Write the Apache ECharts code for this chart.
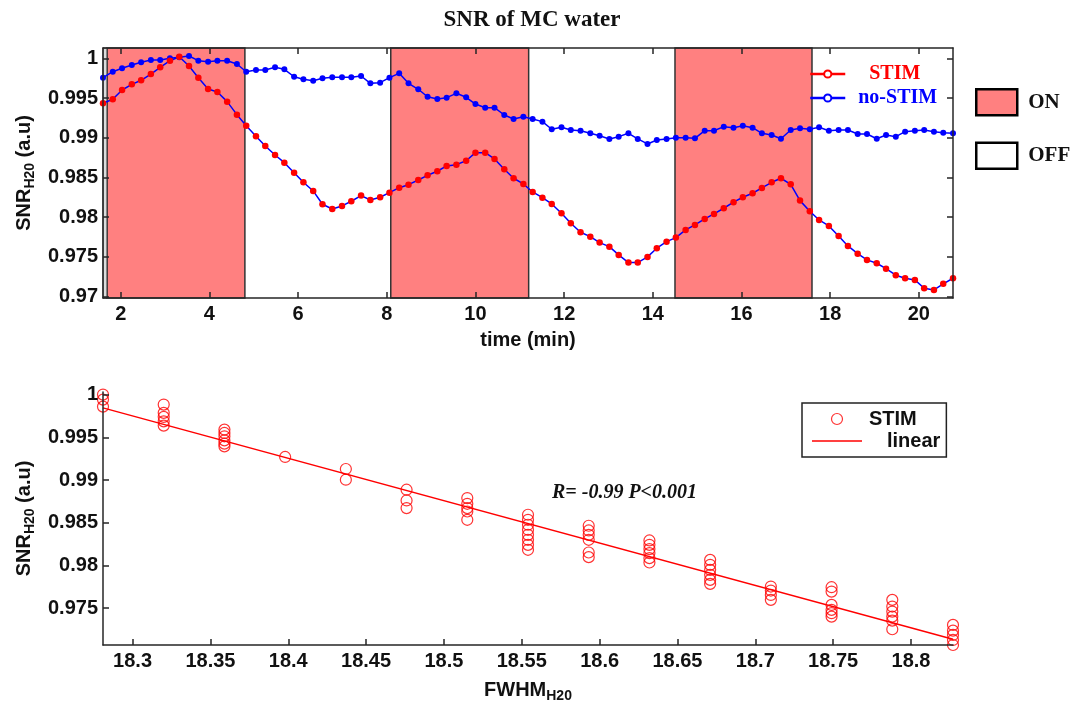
<!DOCTYPE html>
<html>
<head>
<meta charset="utf-8">
<script src="https://cdn.jsdelivr.net/npm/echarts@6/dist/echarts.min.js"></script>
<style>
html,body{margin:0;padding:0;background:#fff;}
#chart{width:1078px;height:704px;}
</style>
</head>
<body>
<div id="chart"></div>
<script>
// ---------- DATA ----------
const timeMin = [1.60,1.82,2.03,2.25,2.46,2.68,2.89,3.11,3.32,3.54,3.75,3.97,4.18,4.40,4.62,4.83,5.05,5.26,5.48,5.69,
  5.91,6.12,6.34,6.55,6.77,6.99,7.20,7.42,7.63,7.85,8.06,8.28,8.49,8.71,8.92,9.14,9.35,9.57,9.79,10.00,
  10.22,10.43,10.65,10.86,11.08,11.29,11.51,11.72,11.94,12.15,12.37,12.59,12.80,13.02,13.23,13.45,13.66,13.88,14.09,14.31,
  14.52,14.74,14.95,15.17,15.38,15.60,15.82,16.03,16.25,16.46,16.68,16.89,17.11,17.32,17.54,17.75,17.97,18.19,18.40,18.62,
  18.83,19.05,19.26,19.48,19.69,19.91,20.12,20.34,20.55,20.77];
const stimSNR = [0.99433,0.99484,0.99601,0.99672,0.99723,0.99802,0.99887,0.99970,1.00020,0.99903,
  0.99756,0.99613,0.99576,0.99454,0.99290,0.99151,0.99018,0.98895,0.98782,0.98685,
  0.98559,0.98438,0.98329,0.98161,0.98102,0.98140,0.98199,0.98270,0.98215,0.98249,
  0.98307,0.98370,0.98408,0.98467,0.98526,0.98577,0.98644,0.98660,0.98710,0.98811,
  0.98811,0.98732,0.98602,0.98489,0.98417,0.98316,0.98244,0.98165,0.98048,0.97922,
  0.97809,0.97753,0.97678,0.97627,0.97523,0.97426,0.97426,0.97498,0.97607,0.97690,
  0.97741,0.97838,0.97901,0.97976,0.98039,0.98111,0.98187,0.98249,0.98300,0.98367,
  0.98438,0.98489,0.98413,0.98207,0.98073,0.97963,0.97888,0.97762,0.97636,0.97539,
  0.97460,0.97418,0.97350,0.97267,0.97229,0.97208,0.97103,0.97082,0.97158,0.97229];
const noStimSNR = [0.99756,0.99831,0.99874,0.99916,0.99950,0.99979,0.99979,1.00000,1.00013,1.00029,
  0.99970,0.99957,0.99970,0.99970,0.99928,0.99831,0.99853,0.99853,0.99887,0.99861,
  0.99768,0.99736,0.99718,0.99748,0.99761,0.99761,0.99761,0.99777,0.99685,0.99693,
  0.99756,0.99811,0.99685,0.99610,0.99516,0.99487,0.99504,0.99559,0.99509,0.99424,
  0.99378,0.99378,0.99286,0.99236,0.99265,0.99236,0.99202,0.99106,0.99131,0.99097,
  0.99088,0.99055,0.99025,0.98984,0.99013,0.99055,0.98984,0.98921,0.98971,0.98984,
  0.99000,0.99000,0.98992,0.99088,0.99088,0.99139,0.99126,0.99151,0.99126,0.99055,
  0.99034,0.98987,0.99097,0.99118,0.99106,0.99131,0.99088,0.99097,0.99097,0.99047,
  0.99047,0.98987,0.99034,0.99013,0.99076,0.99088,0.99097,0.99076,0.99063,0.99055];
const onPeriods = [[1.69,4.80],[8.09,11.20],[14.50,17.59]];
const edgeStrip = [1.60,1.69];
const topXTicks = [2,4,6,8,10,12,14,16,18,20];
const topYTicks = [0.97,0.975,0.98,0.985,0.99,0.995,1];

const fwhmCols = [18.281,18.320,18.359,18.398,18.437,18.476,18.515,18.554,18.593,18.632,18.671,18.710,18.749,18.788,18.827];
const snrCols = [
  [1.0000,0.99941,0.99859],
  [0.99883,0.99786,0.99739,0.99687,0.99637],
  [0.99590,0.99551,0.99512,0.99464,0.99426,0.99394],
  [0.99270],
  [0.99129,0.99004],
  [0.98887,0.98761,0.98672],
  [0.98789,0.98722,0.98672,0.98632,0.98535],
  [0.98594,0.98535,0.98477,0.98418,0.98359,0.98301,0.98242,0.98184],
  [0.98465,0.98410,0.98359,0.98301,0.98152,0.98098],
  [0.98293,0.98242,0.98192,0.98145,0.98086,0.98035],
  [0.98066,0.98008,0.97949,0.97891,0.97832,0.97785],
  [0.97754,0.97707,0.97656,0.97598],
  [0.97746,0.97695,0.97539,0.97481,0.97442,0.97402],
  [0.97598,0.97520,0.97461,0.97402,0.97355,0.97254],
  [0.97305,0.97238,0.97188,0.97129,0.97070]
];
const fitX = [18.281,18.827];
const fitY = [0.99844,0.97137];
const botXTicks = [18.3,18.35,18.4,18.45,18.5,18.55,18.6,18.65,18.7,18.75,18.8];
const botYTicks = [0.975,0.98,0.985,0.99,0.995,1];

// ---------- BUILD ----------
const SANS = "'Liberation Sans', Arial, sans-serif";
const SERIF = "'Liberation Serif', 'Times New Roman', serif";
const AX = '#262626';
const SHADE = '#ff8080';

const stimData = timeMin.map((t,i)=>[t, stimSNR[i]]);
const noStimData = timeMin.map((t,i)=>[t, noStimSNR[i]]);
const scatterData = [];
fwhmCols.forEach((x,i)=>snrCols[i].forEach(v=>scatterData.push([x,v])));
const fitData = fitX.map((x,i)=>[x, fitY[i]]);

const fmt = v => String(+(+v).toFixed(3));
const labelStyle = {fontFamily:SANS, fontWeight:'bold', fontSize:20, color:'#111'};
const axisLine = {show:true, onZero:false, lineStyle:{color:AX, width:1.5}};

function nameRich(){
  return {
    rich:{
      m:{fontFamily:SANS, fontWeight:'bold', fontSize:20, color:'#111', lineHeight:26},
      s:{fontFamily:SANS, fontWeight:'bold', fontSize:14, color:'#111', lineHeight:8, verticalAlign:'bottom'}
    }
  };
}

const chart = echarts.init(document.getElementById('chart'), null, {renderer:'canvas'});
const option = {
  backgroundColor:'#fff',
  animation:false,
  title:{
    text:'SNR of MC water', left:527, top:4, textAlign:'center',
    textStyle:{fontFamily:SERIF, fontWeight:'bold', fontSize:23, color:'#111'}
  },
  grid:[
    {left:103, top:48, width:850, height:250},
    {left:103, top:392, width:850, height:253}
  ],
  xAxis:[
    {gridIndex:0, type:'value', min:1.6, max:20.77, position:'bottom', z:10,
     axisLine:axisLine, splitLine:{show:false},
     axisTick:{inside:true, length:6, customValues:topXTicks, lineStyle:{color:AX, width:1.5}},
     axisLabel:Object.assign({customValues:topXTicks, margin:6, formatter:fmt}, labelStyle),
     name:'time (min)', nameLocation:'middle', nameGap:32,
     nameTextStyle:{fontFamily:SANS, fontWeight:'bold', fontSize:20, color:'#111'}},
    {gridIndex:0, type:'value', min:1.6, max:20.77, position:'top', z:10,
     axisLine:axisLine, splitLine:{show:false},
     axisTick:{inside:true, length:6, customValues:topXTicks, lineStyle:{color:AX, width:1.5}},
     axisLabel:{show:false}},
    {gridIndex:1, type:'value', min:18.281, max:18.827, position:'bottom', z:10,
     axisLine:axisLine, splitLine:{show:false},
     axisTick:{inside:true, length:6, customValues:botXTicks, lineStyle:{color:AX, width:1.5}},
     axisLabel:Object.assign({customValues:botXTicks, margin:6, formatter:fmt}, labelStyle),
     name:'{m|FWHM}{s|H20}', nameLocation:'middle', nameGap:32,
     nameTextStyle:nameRich()}
  ],
  yAxis:[
    {gridIndex:0, type:'value', min:0.9698, max:1.0013, position:'left', z:10,
     axisLine:axisLine, splitLine:{show:false},
     axisTick:{inside:true, length:6, customValues:topYTicks, lineStyle:{color:AX, width:1.5}},
     axisLabel:Object.assign({customValues:topYTicks, margin:5, formatter:fmt}, labelStyle),
     name:'{m|SNR}{s|H20}{m| (a.u)}', nameLocation:'middle', nameGap:62, nameRotate:90,
     nameTextStyle:nameRich()},
    {gridIndex:0, type:'value', min:0.9698, max:1.0013, position:'right', z:10,
     axisLine:axisLine, splitLine:{show:false},
     axisTick:{inside:true, length:6, customValues:topYTicks, lineStyle:{color:AX, width:1.5}},
     axisLabel:{show:false}},
    {gridIndex:1, type:'value', min:0.9707, max:1.0003, position:'left', z:10,
     axisLine:axisLine, splitLine:{show:false},
     axisTick:{inside:true, length:6, customValues:botYTicks, lineStyle:{color:AX, width:1.5}},
     axisLabel:Object.assign({customValues:botYTicks, margin:5, formatter:fmt}, labelStyle),
     name:'{m|SNR}{s|H20}{m| (a.u)}', nameLocation:'middle', nameGap:62, nameRotate:90,
     nameTextStyle:nameRich()}
  ],
  legend:[
    {left:804, top:59, orient:'vertical', itemWidth:35, itemHeight:9, itemGap:0,
     data:[{name:'STIM', itemStyle:{color:'#fff', borderColor:'#ff0000', borderWidth:2},
            lineStyle:{color:'#ff0000', width:2.5},
            textStyle:{color:'#ff0000', padding:[0,0,0,19]}}],
     textStyle:{fontFamily:SERIF, fontWeight:'bold', fontSize:20}},
    {left:804, top:83, orient:'vertical', itemWidth:35, itemHeight:9, itemGap:0,
     data:[{name:'no-STIM', itemStyle:{color:'#fff', borderColor:'#0000ff', borderWidth:2},
            lineStyle:{color:'#0000ff', width:2.5},
            textStyle:{color:'#0000ff', padding:[0,0,0,8]}}],
     textStyle:{fontFamily:SERIF, fontWeight:'bold', fontSize:20}},
    {left:970, top:83, orient:'vertical', itemWidth:41, itemHeight:26, itemGap:25,
     data:[{name:'ON', icon:'rect', itemStyle:{color:SHADE, borderColor:'#000', borderWidth:2.5}},
           {name:'OFF', icon:'rect', itemStyle:{color:'#fff', borderColor:'#000', borderWidth:2.5}}],
     textStyle:{fontFamily:SERIF, fontWeight:'bold', fontSize:21, color:'#111', padding:[0,0,0,6]}},
    {left:802, top:403, orient:'vertical', itemWidth:50, itemHeight:11, itemGap:2,
     backgroundColor:'#fff', borderColor:'#222', borderWidth:1.5, padding:[6,6,6,10],
     data:[{name:'STIM ', icon:'circle', itemStyle:{color:'rgba(0,0,0,0)', borderColor:'#ff0000', borderWidth:1.2},
            textStyle:{padding:[0,0,0,2]}},
           {name:'linear', icon:'path://M0,0 L50,0 L50,1.5 L0,1.5 Z',
            itemStyle:{color:'#ff0000', borderWidth:0}, textStyle:{padding:[0,0,0,20]}}],
     textStyle:{fontFamily:SANS, fontWeight:'bold', fontSize:20, color:'#111'}}
  ],
  graphic:[
    {type:'text', left:552, top:483,
     style:{text:'R= -0.99 P<0.001', font:"italic bold 20px 'Liberation Serif', serif", fill:'#111'}}
  ],
  series:[
    {name:'ON', type:'line', xAxisIndex:0, yAxisIndex:0, data:[], z:1,
     itemStyle:{color:SHADE},
     markArea:{silent:true, label:{show:false},
       itemStyle:{color:SHADE, borderColor:'#333', borderWidth:1.5},
       data:onPeriods.map(p=>[{xAxis:p[0]},{xAxis:p[1]}])}},
    {name:'OFF', type:'line', xAxisIndex:0, yAxisIndex:0, data:[], z:1,
     itemStyle:{color:'#fff'},
     markArea:{silent:true, label:{show:false},
       itemStyle:{color:'#dcdcdc', borderColor:'#333', borderWidth:1},
       data:[[{xAxis:edgeStrip[0]},{xAxis:edgeStrip[1]}]]}},
    {name:'no-STIM', type:'line', xAxisIndex:0, yAxisIndex:0, data:noStimData, z:3,
     symbol:'circle', symbolSize:6, showAllSymbol:true,
     lineStyle:{color:'#0000ff', width:1.5}, itemStyle:{color:'#0000ff'}},
    {name:'STIM', type:'line', xAxisIndex:0, yAxisIndex:0, data:stimData, z:4,
     symbol:'circle', symbolSize:6.5, showAllSymbol:true,
     lineStyle:{color:'#0000ff', width:1.5}, itemStyle:{color:'#ff0000'}},
    {name:'STIM ', type:'scatter', xAxisIndex:2, yAxisIndex:2, data:scatterData, z:4,
     symbol:'circle', symbolSize:11,
     itemStyle:{color:'rgba(0,0,0,0)', borderColor:'#ff0000', borderWidth:1.2}},
    {name:'linear', type:'line', xAxisIndex:2, yAxisIndex:2, data:fitData, z:3,
     symbol:'none', lineStyle:{color:'#ff0000', width:1.5}, itemStyle:{color:'#ff0000'}}
  ]
};
chart.setOption(option);
</script>
</body>
</html>
